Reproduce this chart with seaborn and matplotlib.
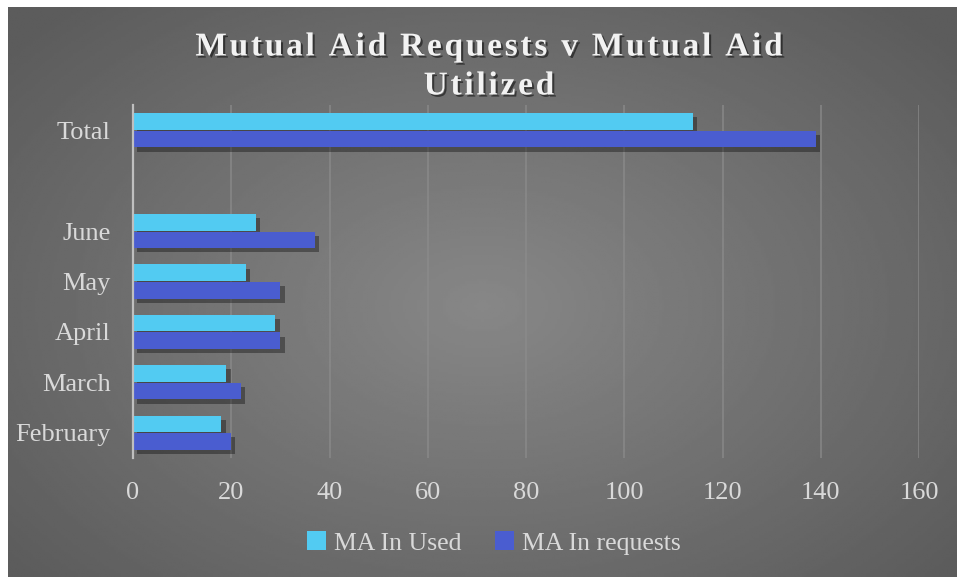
import numpy as np
import pandas as pd
import matplotlib
matplotlib.use("Agg")
import matplotlib.pyplot as plt
import matplotlib.patheffects as pe
from matplotlib.patches import Patch
import seaborn as sns

# --- data ---
categories = ["Total", " ", "June", "May", "April", "March", "February"]
series_names = ["MA In Used", "MA In requests"]
ma_used = {"Total": 114, "June": 25, "May": 23, "April": 29, "March": 19, "February": 18}
ma_requests = {"Total": 139, "June": 37, "May": 30, "April": 30, "March": 22, "February": 20}
x_ticks = [0, 20, 40, 60, 80, 100, 120, 140, 160]
title_lines = ["Mutual Aid Requests v Mutual Aid", "Utilized"]

# --- styling ---
colors = {"MA In Used": "#52CBF2", "MA In requests": "#4A5DD0"}
text_color = "#D9D9D9"

sns.set_style("dark")
plt.rcParams["font.family"] = ["Liberation Serif", "DejaVu Serif"]

rows = []
for cat in categories:
    if cat in ma_used:
        rows.append({"category": cat, "series": series_names[0], "value": ma_used[cat]})
        rows.append({"category": cat, "series": series_names[1], "value": ma_requests[cat]})
df = pd.DataFrame(rows)

fig = plt.figure(figsize=(9.58, 5.78), dpi=100)
fig.patch.set_facecolor("white")

# background panel with a soft radial gradient
bg = fig.add_axes([8 / 958, 1 - 577 / 578, 949 / 958, 570 / 578], zorder=0)
gx, gy = np.meshgrid(np.linspace(-1, 1, 400), np.linspace(-1, 1, 240))
dist = np.sqrt(((gx - 0.0) / 1.0) ** 2 + ((gy - 0.05) / 1.1) ** 2)
shade = 0.53 - 0.17 * np.clip(dist / 1.3, 0, 1)
bg.imshow(shade, cmap="gray", vmin=0, vmax=1, aspect="auto", extent=[0, 1, 0, 1])
bg.axis("off")

ax = fig.add_axes([133 / 958, 1 - 458 / 578, 786 / 958, 353 / 578], zorder=1)
ax.set_facecolor("none")

sns.barplot(data=df, y="category", x="value", hue="series", order=categories,
            hue_order=series_names, palette=colors, orient="h", width=0.7, gap=0.06,
            saturation=1, errorbar=None, ax=ax, zorder=3)
ax.legend_.remove()

for bar in ax.patches:
    bar.set_linewidth(0)
    bar.set_path_effects([pe.SimplePatchShadow(offset=(3, -3), shadow_rgbFace="black", alpha=0.35),
                          pe.Normal()])

ax.set_xlim(0, 160)
ax.set_xticks(x_ticks)
ax.set_xticklabels([str(t) for t in x_ticks])
ax.set_xlabel("")
ax.set_ylabel("")
ax.grid(axis="x", color="#8C8C8C", linewidth=1.2, alpha=0.8, zorder=0)
ax.grid(axis="y", visible=False)
for side in ["top", "right", "bottom"]:
    ax.spines[side].set_visible(False)
ax.spines["left"].set_color("#BFBFBF")
ax.spines["left"].set_linewidth(1.6)
ax.spines["left"].set_zorder(4)
ax.tick_params(axis="both", length=0, colors=text_color, labelsize=19)
ax.tick_params(axis="y", pad=16)
ax.tick_params(axis="x", pad=17)

# title
shadow = [pe.SimplePatchShadow(offset=(1.5, -1.5), shadow_rgbFace="black", alpha=0.5), pe.Normal()]
hair = "\u200a"
for line, ypix in zip(title_lines, [47, 86]):
    fig.text(489 / 958, 1 - ypix / 578, hair.join(line), ha="center", va="center",
             fontsize=24, fontweight="bold", color="#F2F2F2", path_effects=shadow)

handles = [Patch(facecolor=colors[s], edgecolor="none") for s in series_names]
fig.legend(handles, series_names, loc="center", bbox_to_anchor=(494 / 958, 1 - 543 / 578),
           ncol=2, frameon=False, fontsize=18.5, labelcolor=text_color,
           handlelength=0.75, handleheight=0.75, handletextpad=0.3, columnspacing=1.3)

fig.savefig("out.png", dpi=100)
